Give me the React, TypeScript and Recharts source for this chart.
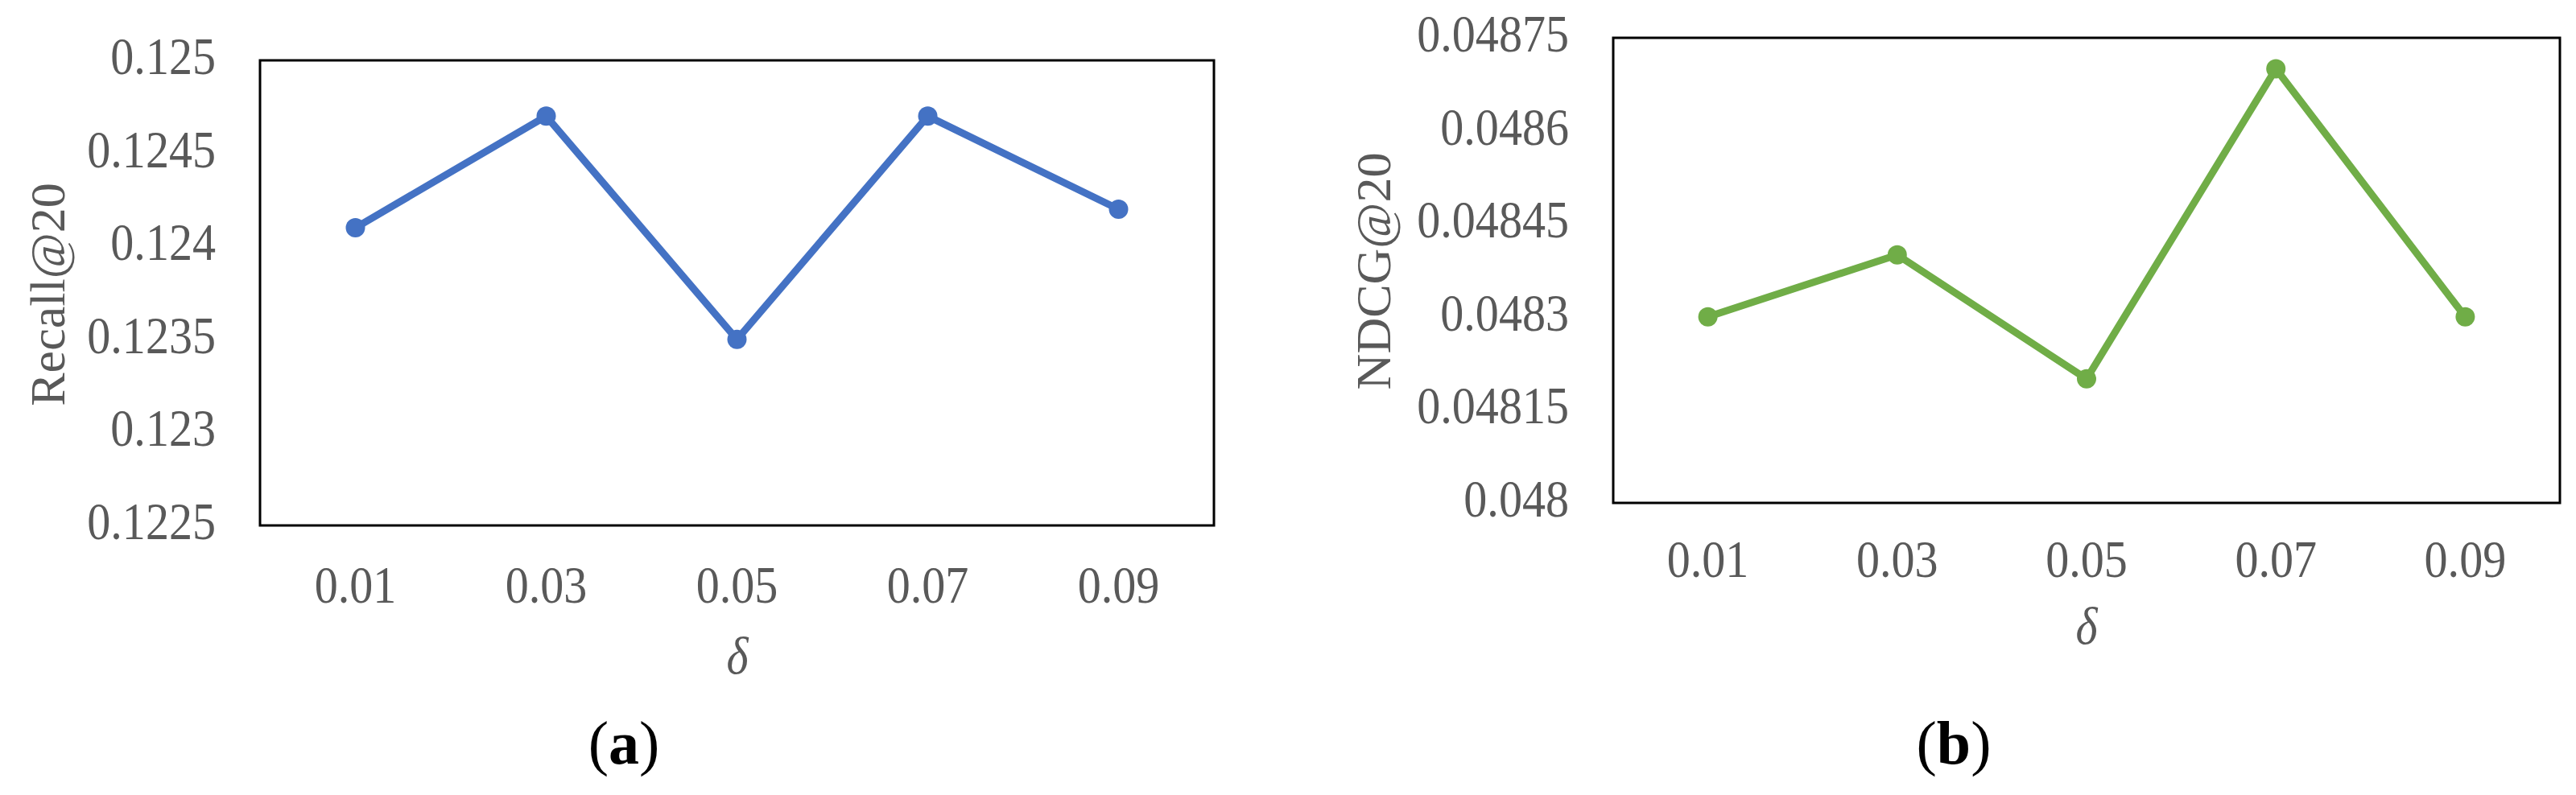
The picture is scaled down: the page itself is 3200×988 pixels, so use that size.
import { LineChart, Line, XAxis, YAxis, ReferenceArea } from "recharts";

const deltas = ["0.01", "0.03", "0.05", "0.07", "0.09"];
const recallValues = [0.1241, 0.1247, 0.1235, 0.1247, 0.1242];
const ndcgValues = [0.0483, 0.0484, 0.0482, 0.0487, 0.0483];
const recallTicks = [0.1225, 0.123, 0.1235, 0.124, 0.1245, 0.125];
const ndcgTicks = [0.048, 0.04815, 0.0483, 0.04845, 0.0486, 0.04875];

const FONT = '"Liberation Serif", "Times New Roman", serif';
const GRAY = "#595959";
const W = 1600;
const H = 988;
// the source figure uses a taller, narrower serif than Liberation, so squeeze it a bit
const TICK_SIZE = 66;
const SQUEEZE = 0.88;

type Layout = {
  plotLeft: number;
  plotRight: number;
  plotTop: number;
  plotBottom: number;
  xTickMargin: number;
  titleX: number;
  titleY: number;
  deltaX: number;
  deltaY: number;
  capX: number;
  capY: number;
};

function YTick(props: any) {
  const { x, y, payload } = props;
  return (
    <g transform={`translate(${x},${y})`}>
      <text transform={`scale(${SQUEEZE},1)`} y={17} textAnchor="end" fontSize={TICK_SIZE} fill={GRAY} fontFamily={FONT}>
        {String(payload.value)}
      </text>
    </g>
  );
}

function XTick(props: any) {
  const { x, y, payload } = props;
  return (
    <g transform={`translate(${x},${y})`}>
      <text transform={`scale(${SQUEEZE},1)`} y={44} textAnchor="middle" fontSize={TICK_SIZE} fill={GRAY} fontFamily={FONT}>
        {payload.value}
      </text>
    </g>
  );
}

// y-axis title, rotated; props named so the Label clone can't clobber them
function YTitle({ at, caption }: { at: [number, number]; caption: string }) {
  const [x, y] = at;
  return (
    <text
      x={x}
      y={y}
      transform={`rotate(-90 ${x} ${y})`}
      textAnchor="middle"
      fontSize={62}
      fill={GRAY}
      fontFamily={FONT}
    >
      {caption}
    </text>
  );
}

// δ axis title plus the (a)/(b) panel caption
function XTitle({ lay, letter }: { lay: Layout; letter: string }) {
  return (
    <g>
      <g transform={`translate(${lay.deltaX},${lay.deltaY})`}>
        <text
          transform={`scale(${SQUEEZE},1)`}
          textAnchor="middle"
          fontSize={TICK_SIZE}
          fontStyle="italic"
          fill={GRAY}
          fontFamily={FONT}
        >
          δ
        </text>
      </g>
      <text x={lay.capX} y={lay.capY} textAnchor="middle" fontSize={76} fill="#000" fontFamily={FONT}>
        (<tspan fontWeight="bold">{letter}</tspan>)
      </text>
    </g>
  );
}

function Panel({
  values,
  ticks,
  color,
  title,
  letter,
  lay,
}: {
  values: number[];
  ticks: number[];
  color: string;
  title: string;
  letter: string;
  lay: Layout;
}) {
  const data = deltas.map((d, i) => ({ delta: d, value: values[i] }));
  const lo = ticks[0];
  const hi = ticks[ticks.length - 1];
  return (
    <LineChart
      width={W}
      height={H}
      data={data}
      margin={{ top: lay.plotTop, right: W - lay.plotRight, bottom: H - lay.plotBottom - 100, left: 0 }}
    >
      <ReferenceArea y1={lo} y2={hi} fill="none" stroke="#000" strokeWidth={3} ifOverflow="visible" />
      <XAxis
        dataKey="delta"
        scale="band"
        interval={0}
        height={100}
        axisLine={false}
        tickLine={false}
        tickSize={0}
        tickMargin={lay.xTickMargin}
        tick={<XTick />}
        label={<XTitle lay={lay} letter={letter} />}
      />
      <YAxis
        type="number"
        width={lay.plotLeft}
        domain={[lo, hi]}
        ticks={ticks}
        allowDataOverflow
        axisLine={false}
        tickLine={false}
        tickSize={0}
        tickMargin={55}
        tick={<YTick />}
        label={<YTitle at={[lay.titleX, lay.titleY]} caption={title} />}
      />
      <Line
        dataKey="value"
        stroke={color}
        strokeWidth={9}
        strokeLinejoin="round"
        dot={{ r: 12, fill: color, stroke: color, strokeWidth: 0 }}
        activeDot={false}
        isAnimationActive={false}
      />
    </LineChart>
  );
}

const leftLayout: Layout = {
  plotLeft: 323,
  plotRight: 1508,
  plotTop: 75,
  plotBottom: 653,
  xTickMargin: 52,
  titleX: 80,
  titleY: 366,
  deltaX: 916,
  deltaY: 837,
  capX: 775,
  capY: 949,
};

const rightLayout: Layout = {
  plotLeft: 404,
  plotRight: 1580,
  plotTop: 47,
  plotBottom: 625,
  xTickMargin: 48,
  titleX: 127,
  titleY: 337,
  deltaX: 992,
  deltaY: 800,
  capX: 827,
  capY: 949,
};

export default function App() {
  return (
    <div style={{ position: "absolute", left: 0, top: 0, width: 3200, height: 988, background: "#fff" }}>
      <div style={{ position: "absolute", left: 0, top: 0 }}>
        <Panel values={recallValues} ticks={recallTicks} color="#4472C4" title="Recall@20" letter="a" lay={leftLayout} />
      </div>
      <div style={{ position: "absolute", left: 1600, top: 0 }}>
        <Panel values={ndcgValues} ticks={ndcgTicks} color="#70AD47" title="NDCG@20" letter="b" lay={rightLayout} />
      </div>
    </div>
  );
}
